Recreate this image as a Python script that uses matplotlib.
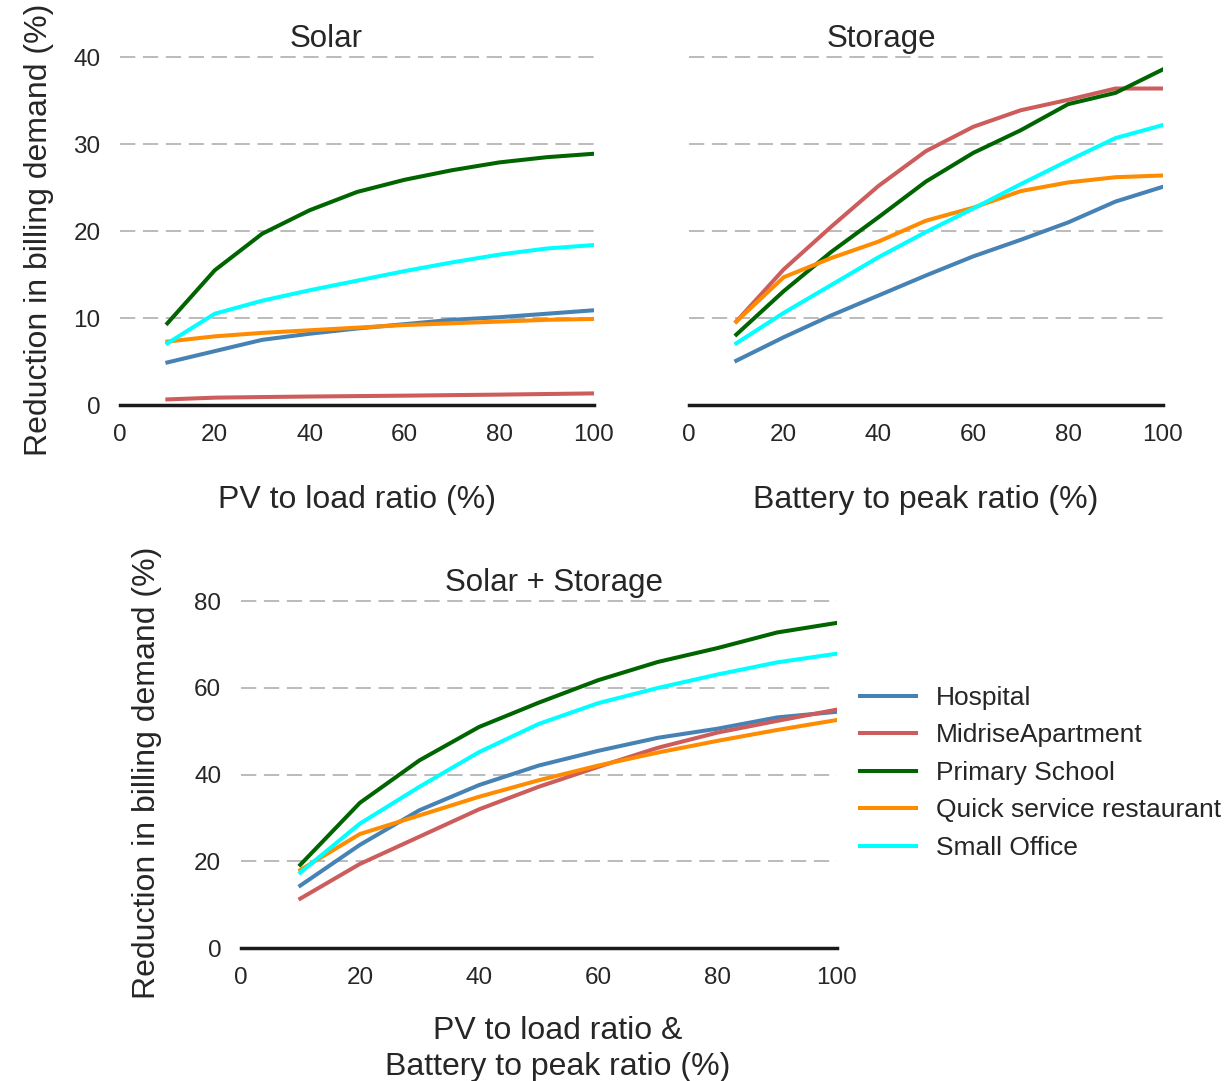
import numpy as np
import matplotlib
matplotlib.use('Agg')
import matplotlib.pyplot as plt

plt.rcParams['font.family'] = ['Liberation Sans', 'DejaVu Sans']
plt.rcParams['text.color'] = '#262626'
plt.rcParams['axes.labelcolor'] = '#262626'
plt.rcParams['xtick.color'] = '#262626'
plt.rcParams['ytick.color'] = '#262626'

ratios = [10, 20, 30, 40, 50, 60, 70, 80, 90, 100]
buildings = ['Hospital', 'MidriseApartment', 'Primary School',
             'Quick service restaurant', 'Small Office']
colors = ['steelblue', 'indianred', 'darkgreen', 'darkorange', 'cyan']

# Solar only
solar_hospital = [4.9, 6.2, 7.5, 8.2, 8.8, 9.3, 9.8, 10.1, 10.5, 10.9]
solar_midrise = [0.65, 0.85, 0.92, 0.98, 1.03, 1.08, 1.14, 1.2, 1.27, 1.34]
solar_school = [9.4, 15.5, 19.7, 22.4, 24.5, 25.9, 27.0, 27.9, 28.5, 28.9]
solar_restaurant = [7.3, 7.9, 8.3, 8.6, 8.9, 9.2, 9.4, 9.6, 9.8, 9.9]
solar_office = [7.1, 10.5, 12.0, 13.2, 14.3, 15.4, 16.4, 17.3, 18.0, 18.4]

# Storage only
storage_hospital = [5.1, 7.8, 10.3, 12.6, 14.9, 17.1, 19.0, 21.0, 23.4, 25.1]
storage_midrise = [9.6, 15.6, 20.5, 25.2, 29.2, 32.0, 33.9, 35.1, 36.4, 36.4]
storage_school = [8.1, 13.1, 17.6, 21.6, 25.7, 29.0, 31.6, 34.6, 35.9, 38.6]
storage_restaurant = [9.6, 14.7, 16.9, 18.8, 21.2, 22.7, 24.6, 25.6, 26.2, 26.4]
storage_office = [7.1, 10.6, 13.8, 17.0, 19.9, 22.6, 25.4, 28.1, 30.7, 32.2]

# Solar + storage
combo_hospital = [14.4, 23.8, 31.8, 37.6, 42.1, 45.5, 48.5, 50.6, 53.2, 54.5]
combo_midrise = [11.4, 19.4, 25.7, 32.0, 37.2, 41.8, 46.2, 49.7, 52.4, 55.0]
combo_school = [19.2, 33.5, 43.3, 51.0, 56.6, 61.8, 66.0, 69.2, 72.8, 75.0]
combo_restaurant = [18.0, 26.3, 30.6, 34.9, 38.7, 42.1, 45.1, 47.8, 50.3, 52.6]
combo_office = [17.4, 28.7, 37.2, 45.2, 51.7, 56.5, 60.0, 63.1, 65.9, 67.9]

solar = [solar_hospital, solar_midrise, solar_school, solar_restaurant, solar_office]
storage = [storage_hospital, storage_midrise, storage_school, storage_restaurant, storage_office]
combo = [combo_hospital, combo_midrise, combo_school, combo_restaurant, combo_office]

fig = plt.figure(figsize=(12.28, 10.81), dpi=100)
ax1 = fig.add_axes([0.0977, 0.6253, 0.386, 0.325])
ax2 = fig.add_axes([0.561, 0.6253, 0.386, 0.325])
ax3 = fig.add_axes([0.196, 0.123, 0.4853, 0.324])


def style(ax, data, title, title_x, xlabel, xpad, ylim, yticks, ylabel=None, ypad=14):
    for vals, c, name in zip(data, colors, buildings):
        ax.plot(ratios, vals, color=c, lw=2.9, label=name)
    ax.set_xlim(0, 100)
    ax.set_ylim(*ylim)
    ax.set_yticks(yticks)
    ax.set_xticks([0, 20, 40, 60, 80, 100])
    for s in ax.spines.values():
        s.set_visible(False)
    ax.axhline(0, color='#1a1a1a', lw=2.5, zorder=1, clip_on=False)
    ax.yaxis.grid(True, ls=(0, (10, 5)), color='#a8a8a8', lw=1.1)
    ax.set_axisbelow(True)
    ax.tick_params(length=0, labelsize=17.5)
    ax.tick_params(axis='x', pad=14)
    ax.tick_params(axis='y', pad=14)
    t = ax.set_title(title, fontsize=22.5, pad=4)
    t.set_x(title_x)
    ax.set_xlabel(xlabel, fontsize=23, labelpad=xpad, linespacing=1.25)
    if ylabel:
        ax.set_ylabel(ylabel, fontsize=23, labelpad=ypad)


style(ax1, solar, 'Solar', 0.435, 'PV to load ratio (%)', 28, (0, 40.4),
      [0, 10, 20, 30, 40], 'Reduction in billing demand (%)')
style(ax2, storage, 'Storage', 0.407, 'Battery to peak ratio (%)', 28, (0, 40.4),
      [0, 10, 20, 30, 40])
ax2.set_yticklabels([])
style(ax3, combo, 'Solar + Storage', 0.525, 'PV to load ratio &\nBattery to peak ratio (%)', 20,
      (0, 80.8), [0, 20, 40, 60, 80], 'Reduction in billing demand (%)', ypad=23)
ax3.xaxis.set_label_coords(0.532, -0.194)
ax3.xaxis.label.set_verticalalignment('top')

ax3.legend(loc='center left', bbox_to_anchor=(1.0, 0.5), frameon=False,
           fontsize=19, handlelength=2.1, handletextpad=0.75, labelspacing=0.51)

fig.savefig('out.png', dpi=100)
